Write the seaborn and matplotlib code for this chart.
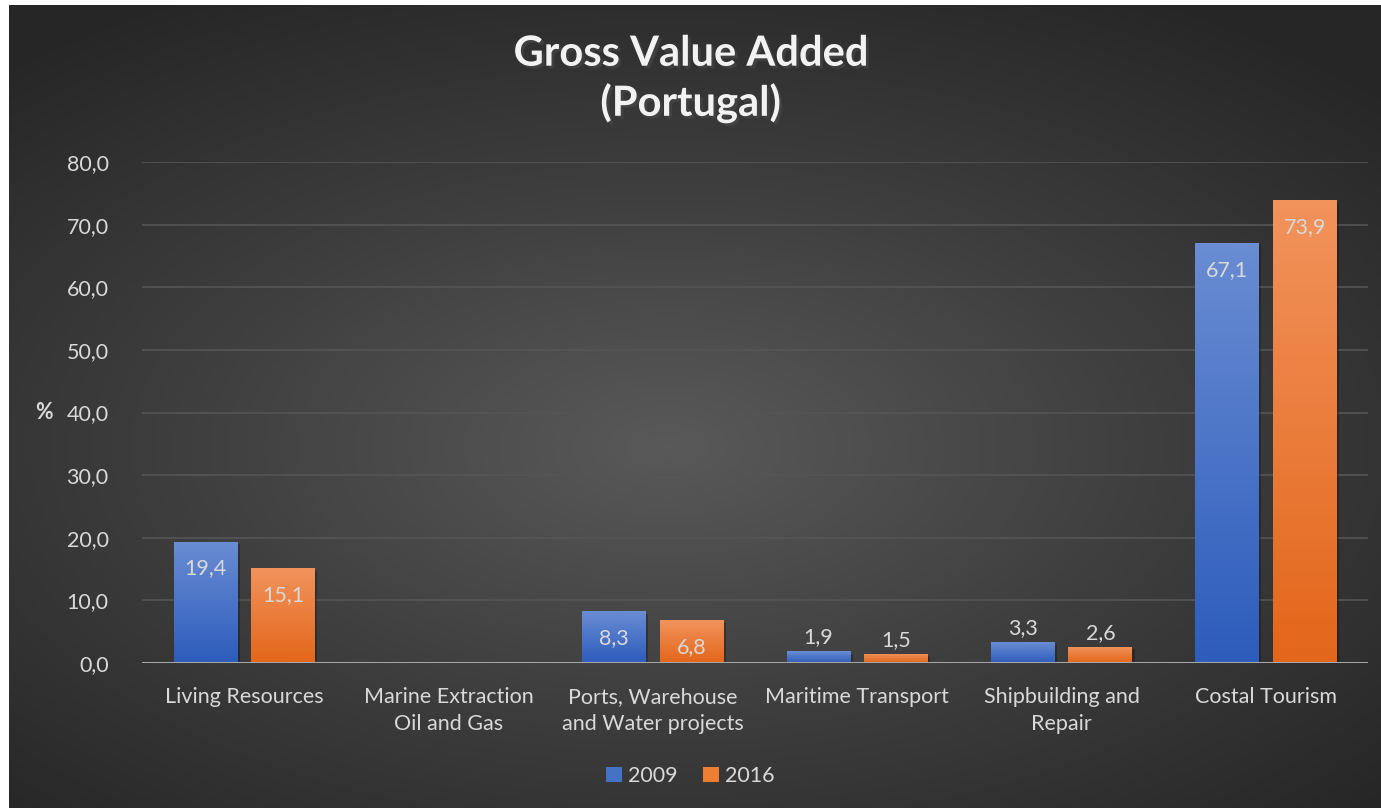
import numpy as np
import pandas as pd
import seaborn as sns
import matplotlib.pyplot as plt
import matplotlib.patheffects as pe
from matplotlib.colors import LinearSegmentedColormap
from matplotlib.patches import Patch

categories = ["Living Resources", "Marine Extraction\nOil and Gas",
              "Ports, Warehouse\nand Water projects", "Maritime Transport",
              "Shipbuilding and\nRepair", "Costal Tourism"]
years = ["2009", "2016"]
values_2009 = [19.4, 0.0, 8.3, 1.9, 3.3, 67.1]
values_2016 = [15.1, 0.0, 6.8, 1.5, 2.6, 73.9]
y_ticks = [0, 10, 20, 30, 40, 50, 60, 70, 80]

df = pd.DataFrame({
    "category": categories * 2,
    "year": [years[0]] * 6 + [years[1]] * 6,
    "value": values_2009 + values_2016,
})

sns.set_theme(style="dark")
plt.rcParams['font.family'] = ['Lato', 'DejaVu Sans']
txt = "#d9d9d9"
fs = 15.5

W, H = 1381, 808
fig = plt.figure(figsize=(W / 100, H / 100), dpi=100)
fig.patch.set_facecolor("white")

# dark radial background
bg = fig.add_axes([9 / W, 0, 1 - 9 / W, 1 - 5 / H])
yy, xx = np.mgrid[0:1:300j, 0:1:500j]
r = np.sqrt(((xx - 0.48) * 1.0) ** 2 + ((yy - 0.55) * 1.1) ** 2)
bg_cmap = LinearSegmentedColormap.from_list("bg", ["#595959", "#3e3e3e", "#262626"])
bg.imshow(np.clip(r / 0.72, 0, 1), cmap=bg_cmap, aspect="auto", extent=[0, 1, 0, 1])
bg.set_axis_off()

ax = fig.add_axes([142 / W, 1 - 663 / H, (1368 - 142) / W, (663 - 162) / H])
ax.patch.set_alpha(0)

sns.barplot(data=df, x="category", y="value", hue="year", ax=ax,
            palette=["#4472c4", "#ed7d31"], width=0.76, gap=0.18,
            saturation=1, legend=False, linewidth=0, edgecolor="none",
            zorder=3)

grads = {
    "2009": LinearSegmentedColormap.from_list("b", ["#2d5cbc", "#6a8dd3"]),
    "2016": LinearSegmentedColormap.from_list("o", ["#e3661a", "#f2935c"]),
}
grad = np.linspace(0, 1, 256).reshape(-1, 1)[::-1]
for cont, yr, vals in zip(ax.containers, years, [values_2009, values_2016]):
    for bar, v in zip(cont, vals):
        if v <= 0:
            continue
        x0, w = bar.get_x(), bar.get_width()
        # soft shadow
        ax.add_patch(plt.Rectangle((x0 + 0.012, -0.4), w, v, color="black",
                                   alpha=0.25, zorder=2, lw=0))
        im = ax.imshow(grad, cmap=grads[yr], aspect="auto",
                       extent=[x0, x0 + w, 0, v], zorder=4)
        im.set_clip_path(bar)
        cx = x0 + w / 2
        lab = f"{v:.1f}".replace(".", ",")
        if v > 5:
            ax.text(cx, v - 4.3, lab, ha="center", va="center",
                    color=txt, fontsize=fs, zorder=5)
        else:
            ax.text(cx, v + 0.6, lab, ha="center", va="bottom",
                    color=txt, fontsize=fs, zorder=5)

ax.set_xlim(-0.5, 5.5)
ax.set_ylim(0, 80)
ax.set_yticks(y_ticks)
ax.set_yticklabels([f"{t:.1f}".replace(".", ",") for t in y_ticks])
ax.grid(axis="y", color="#555555", lw=1.2, zorder=0)
ax.grid(axis="x", visible=False)
ax.axhline(0, color="#a6a6a6", lw=2.2, zorder=6)
for s in ax.spines.values():
    s.set_visible(False)
ax.tick_params(axis="y", colors=txt, labelsize=fs, length=0, pad=24)
ax.tick_params(axis="x", colors=txt, labelsize=fs, length=0, pad=17)
for t in ax.get_xticklabels():
    t.set_linespacing(1.45)
    t.set_va("top")
ax.set_xlabel("")
ax.set_ylabel("%", color=txt, fontsize=fs, fontweight="bold", rotation=0,
              labelpad=16, va="center")

fig.text(0.5, 1 - 79 / H, "Gross Value Added\n(Portugal)", ha="center",
         va="center", color="#f2f2f2", fontsize=30, fontweight="bold",
         linespacing=1.3,
         path_effects=[pe.withSimplePatchShadow(offset=(2, -2), alpha=0.6)])

handles = [Patch(facecolor="#4472c4", edgecolor="none", label="2009"),
           Patch(facecolor="#ed7d31", edgecolor="none", label="2016")]
fig.legend(handles=handles, loc="center", bbox_to_anchor=(0.5, 1 - 776 / H),
           ncol=2, frameon=False, fontsize=fs, labelcolor=txt,
           handlelength=0.7, handleheight=0.7, handletextpad=0.3,
           columnspacing=1.2)

fig.savefig("out.png", dpi=100)
